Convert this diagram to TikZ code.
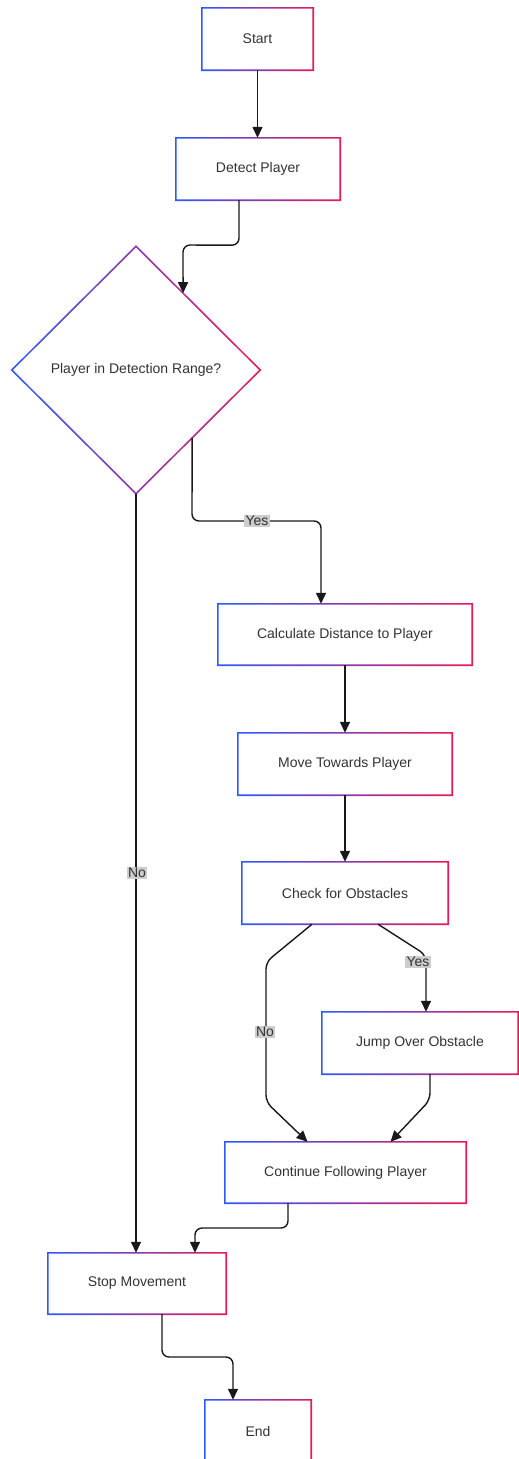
\documentclass[tikz,border=0pt]{standalone}
\usepackage{fontspec}
\setmainfont{Liberation Sans}
\usetikzlibrary{shapes.geometric,arrows.meta,calc}
\definecolor{gL}{RGB}{45,90,255}
\definecolor{gR}{RGB}{235,25,90}
\definecolor{txt}{RGB}{51,51,51}
\definecolor{lblbg}{RGB}{205,205,205}
\definecolor{edgec}{RGB}{25,25,25}
\newcommand\gradrect[1]{%
  \shade[left color=gL,right color=gR,even odd rule]
    ([shift={(-0.8pt,-0.8pt)}]#1.south west) rectangle ([shift={(0.8pt,0.8pt)}]#1.north east)
    ([shift={(0.8pt,0.8pt)}]#1.south west) rectangle ([shift={(-0.8pt,-0.8pt)}]#1.north east);}
\tikzset{
  box/.style={rectangle, fill=white, inner sep=0pt, minimum height=62pt, text=txt,
    font=\fontsize{14}{16}\selectfont},
  decision/.style={diamond, aspect=1, fill=white, inner sep=0pt, text=txt,
    font=\fontsize{14}{16}\selectfont},
  edge/.style={draw=edgec, line width=1.4pt, rounded corners=7pt,
    -{Triangle[width=10pt,length=11pt]}},
  lbl/.style={fill=lblbg, text=txt, inner sep=1.5pt, font=\fontsize{14}{16}\selectfont}
}
\begin{document}
\begin{tikzpicture}[x=1pt,y=-1pt]
\useasboundingbox[fill=white] (0,0) rectangle (519,1459);
% nodes
\node[box, minimum width=111pt] (start) at (257.5,39) {Start};
\node[box, minimum width=164pt] (detect) at (258,169) {Detect Player};
\node[decision, minimum width=248pt, minimum height=247pt] (d) at (136,370) {Player in Detection Range?};
\node[box, minimum width=254pt, minimum height=61pt] (calc) at (345,634.5) {Calculate Distance to Player};
\node[box, minimum width=214pt] (move) at (345,764) {Move Towards Player};
\node[box, minimum width=206pt] (check) at (345,893) {Check for Obstacles};
\node[box, minimum width=196pt] (jump) at (420,1043) {Jump Over Obstacle};
\node[box, minimum width=241pt, minimum height=61pt] (cont) at (345.5,1172.5) {Continue Following Player};
\node[box, minimum width=178pt, minimum height=61pt] (stop) at (137,1283.5) {Stop Movement};
\node[box, minimum width=106pt] (end) at (258,1431) {End};
% gradient borders
\foreach \n in {start,detect,calc,move,check,jump,cont,stop,end}{\gradrect{\n}}
\shade[left color=gL,right color=gR,even odd rule]
  ([yshift=1.1pt]d.north) -- ([xshift=1.1pt]d.east) -- ([yshift=-1.1pt]d.south) -- ([xshift=-1.1pt]d.west) -- cycle
  ([yshift=-1.1pt]d.north) -- ([xshift=-1.1pt]d.east) -- ([yshift=1.1pt]d.south) -- ([xshift=1.1pt]d.west) -- cycle;
% connectors
\draw[edge] (start.south) -- (start.south |- detect.north);
\draw[edge] ([xshift=-19pt]detect.south) -- ++(0,45) -- (183,245) -- ($(d.north)!0.379!(d.east)$);
\draw[edge] ($(d.east)!0.548!(d.south)$) -- (192,521) -- (321,521) -- ([xshift=-24pt]calc.north);
\node[lbl] (ly1) at (257,521) {Yes};
\draw[edge] (d.south) -- (d.south |- stop.north);
\node[lbl] (ln1) at (137,873) {No};
\draw[edge] (calc.south) -- (move.north);
\draw[edge] (move.south) -- (check.north);
\draw[edge] ([xshift=33pt]check.south) -- (426,955) -- ([xshift=6pt]jump.north);
\node[lbl] (ly2) at (418,962) {Yes};
\draw[edge] ([xshift=-33pt]check.south) -- (266,962) -- (266,1102) -- ([xshift=-38pt]cont.north);
\node[lbl] (ln2) at (265,1032) {No};
\draw[edge] ([xshift=10pt]jump.south) -- (430,1100) -- ([xshift=45pt]cont.north);
\draw[edge] ([xshift=-57.5pt]cont.south) -- (288,1228) -- (195,1228) -- ([xshift=58pt]stop.north);
\draw[edge] ([xshift=25pt]stop.south) -- (162,1357) -- (233,1357) -- ([xshift=-25pt]end.north);
\end{tikzpicture}
\end{document}
